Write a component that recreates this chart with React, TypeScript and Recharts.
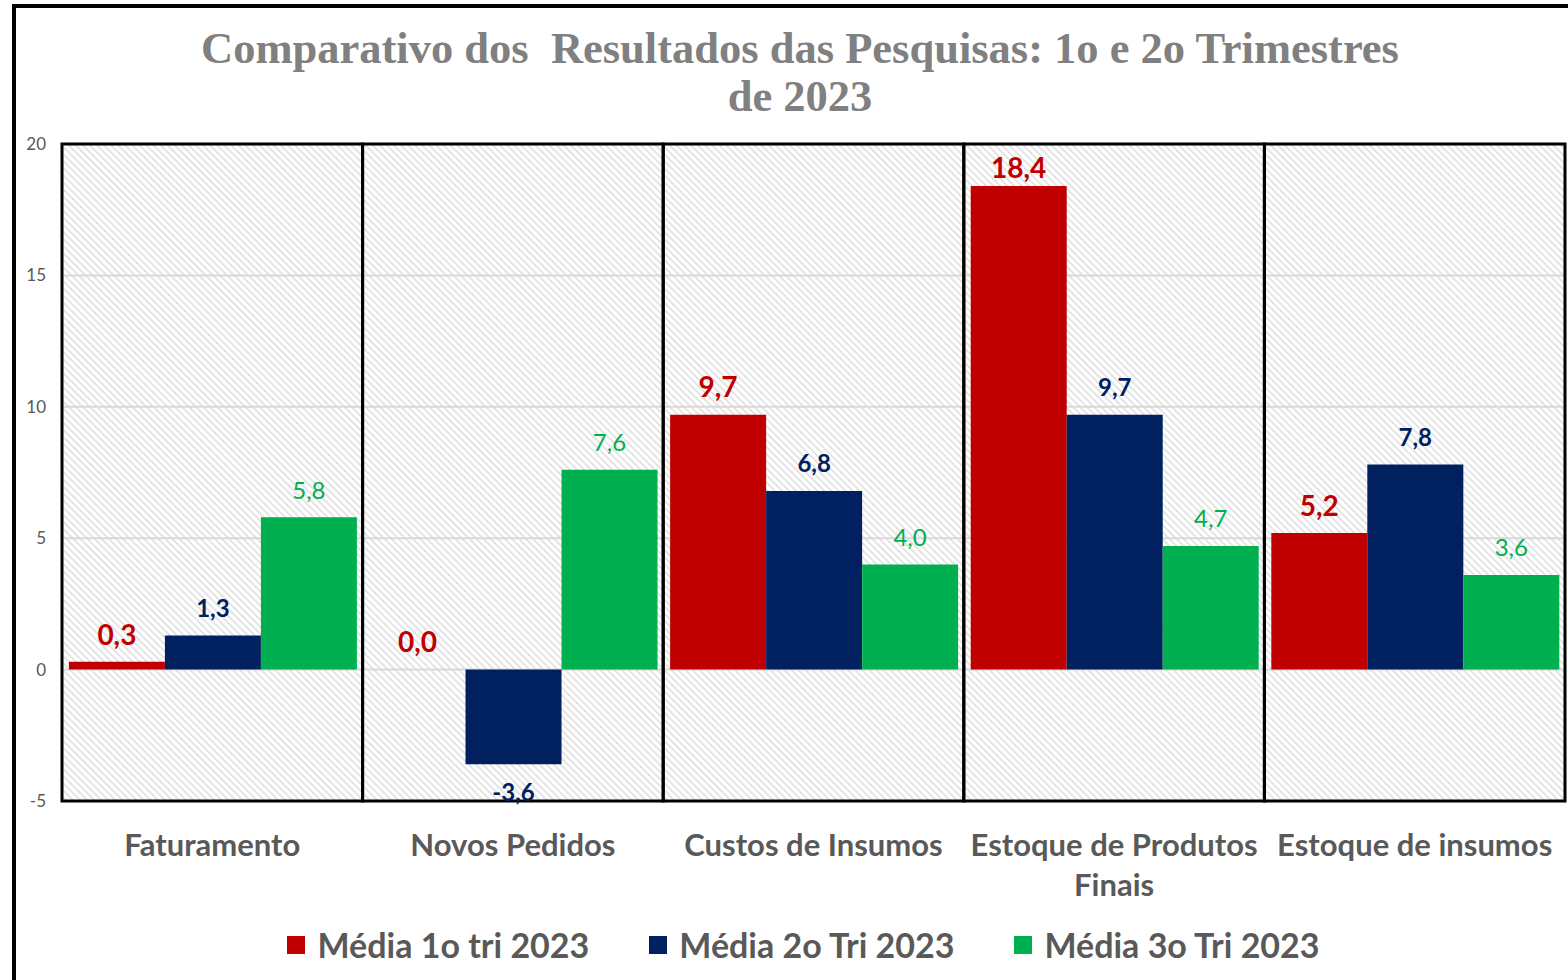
import {
  Bar,
  BarChart,
  CartesianGrid,
  LabelList,
  Legend,
  ReferenceArea,
  XAxis,
  YAxis,
} from "recharts";

const categories = [
  "Faturamento",
  "Novos Pedidos",
  "Custos de Insumos",
  "Estoque de Produtos Finais",
  "Estoque de insumos",
];
const media1 = [0.3, 0.0, 9.7, 18.4, 5.2];
const media2 = [1.3, -3.6, 6.8, 9.7, 7.8];
const media3 = [5.8, 7.6, 4.0, 4.7, 3.6];
const seriesNames = ["Média 1o tri 2023", "Média 2o Tri 2023", "Média 3o Tri 2023"];
const seriesColors = ["#C00000", "#002060", "#00B050"];
const yTicks = [-5, 0, 5, 10, 15, 20];

const data = categories.map((name, i) => ({
  name,
  m1: media1[i],
  m2: media2[i],
  m3: media3[i],
}));

const PLOT_TOP = 144;

const fmt = (v: unknown) => Number(v).toFixed(1).replace(".", ",");

function wrapLabel(text: string, max = 20) {
  if (text.length <= max) return [text];
  const cut = text.lastIndexOf(" ", max);
  return [text.slice(0, cut), text.slice(cut + 1)];
}

function CategoryTick(props: any) {
  const { x, y, payload } = props;
  const lines = wrapLabel(String(payload.value));
  return (
    <text
      x={x}
      y={y + 53}
      textAnchor="middle"
      fill="#595959"
      fontFamily="Lato"
      fontWeight={700}
      fontSize={31}
    >
      {lines.map((line, i) => (
        <tspan key={i} x={x} dy={i === 0 ? 0 : 40}>
          {line}
        </tspan>
      ))}
    </text>
  );
}

// Excel-style label: above the bar end (below for negatives), kept inside the plot
function makeValueLabel(style: { fill: string; fontSize: number; fontWeight: number }) {
  return function ValueLabel(props: any) {
    const { x, y, width, height, value } = props;
    const v = Number(value);
    const cx = x + width / 2;
    const top = Math.min(y, y + height);
    const bottom = Math.max(y, y + height);
    let center = v >= 0 ? top - 27 : bottom + 28;
    if (center < PLOT_TOP + 24) center = PLOT_TOP + 24;
    return (
      <text
        x={cx}
        y={center}
        dy="0.35em"
        textAnchor="middle"
        fontFamily="Lato"
        fill={style.fill}
        fontSize={style.fontSize}
        fontWeight={style.fontWeight}
      >
        {fmt(v)}
      </text>
    );
  };
}

function LegendContent() {
  return (
    <div
      style={{
        display: "flex",
        justifyContent: "center",
        alignItems: "center",
        gap: 60,
        paddingLeft: 30,
        height: 59,
        marginTop: -6,
        fontFamily: "Lato",
        fontWeight: 700,
        fontSize: 34,
        color: "#595959",
      }}
    >
      {seriesNames.map((name, i) => (
        <div key={name} style={{ display: "flex", alignItems: "center" }}>
          <span
            style={{
              width: 18,
              height: 18,
              background: seriesColors[i],
              marginRight: 12,
              display: "inline-block",
            }}
          />
          <span>{name}</span>
        </div>
      ))}
    </div>
  );
}

const labelStyles = [
  { fill: "#C00000", fontSize: 28, fontWeight: 700 },
  { fill: "#002060", fontSize: 24, fontWeight: 700 },
  { fill: "#00B050", fontSize: 24, fontWeight: 400 },
];
const keys = ["m1", "m2", "m3"];
const labelRenderers = labelStyles.map(makeValueLabel);

export default function App() {
  return (
    <div
      style={{
        position: "absolute",
        left: 0,
        top: 0,
        width: 1568,
        height: 980,
        overflow: "hidden",
        background: "#fff",
      }}
    >
      <svg width={0} height={0} style={{ position: "absolute" }}>
        <defs>
          <pattern
            id="hatch"
            width={5}
            height={5}
            patternUnits="userSpaceOnUse"
            patternTransform="rotate(-45)"
          >
            <rect width={5} height={5} fill="#ffffff" />
            <rect x={0} y={0} width={1.6} height={5} fill="#dedede" />
          </pattern>
        </defs>
      </svg>
      <div
        style={{
          position: "absolute",
          left: 12,
          top: 4,
          width: 1600,
          height: 1000,
          borderLeft: "4px solid #000",
          borderTop: "4px solid #000",
        }}
      />
      <div
        style={{
          position: "absolute",
          left: 0,
          top: 24,
          width: 1600,
          textAlign: "center",
          fontFamily: "Liberation Serif",
          fontWeight: 700,
          fontSize: 44.5,
          lineHeight: "48px",
          color: "#808080",
          whiteSpace: "pre",
        }}
      >
        {"Comparativo dos  Resultados das Pesquisas: 1o e 2o Trimestres\nde 2023"}
      </div>
      <div style={{ position: "absolute", left: 0, top: 0 }}>
        <BarChart
          width={1568}
          height={980}
          data={data}
          margin={{ top: 144, right: 3, left: 12, bottom: 0 }}
          barCategoryGap="2.3%"
          barGap={0}
        >
          <CartesianGrid
            vertical={false}
            stroke="#d9d9d9"
            strokeWidth={2}
            fill="url(#hatch)"
            fillOpacity={1}
          />
          <XAxis
            dataKey="name"
            height={120}
            tickLine={false}
            axisLine={false}
            tickSize={0}
            tick={<CategoryTick />}
            interval={0}
          />
          <YAxis
            width={50}
            domain={[-5, 20]}
            ticks={yTicks}
            tickLine={false}
            axisLine={false}
            tickMargin={10}
            tick={{ fill: "#595959", fontSize: 17, fontFamily: "Lato" }}
          />
          <Legend verticalAlign="bottom" height={59} content={<LegendContent />} />
          {keys.map((k, i) => (
            <Bar
              key={k}
              dataKey={k}
              name={seriesNames[i]}
              fill={seriesColors[i]}
              minPointSize={0.01}
              isAnimationActive={false}
            >
              <LabelList dataKey={k} content={labelRenderers[i]} />
            </Bar>
          ))}
          {categories.map((c) => (
            <ReferenceArea
              key={c}
              x1={c}
              x2={c}
              y1={-5}
              y2={20}
              fill="none"
              fillOpacity={0}
              stroke="#000"
              strokeWidth={3}
            />
          ))}
        </BarChart>
      </div>
    </div>
  );
}
